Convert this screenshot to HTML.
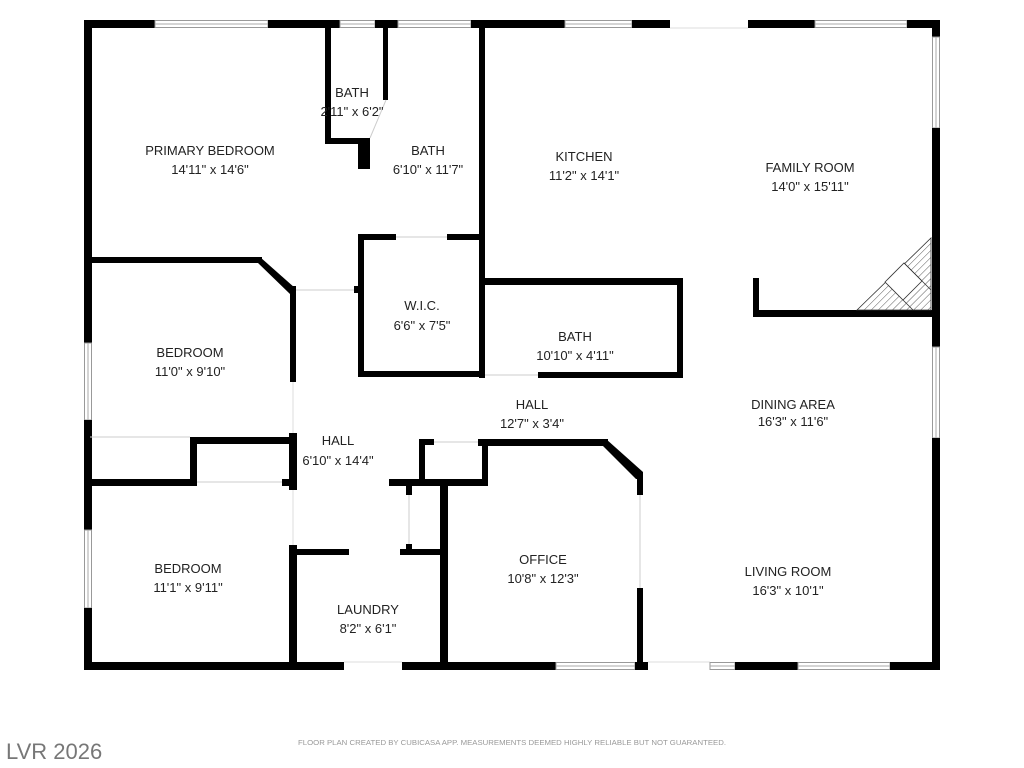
<!DOCTYPE html>
<html><head><meta charset="utf-8"><style>
html,body{margin:0;padding:0;background:#fff;width:1024px;height:768px;overflow:hidden}
svg{display:block}
text{font-family:"Liberation Sans",sans-serif;fill:#222;text-anchor:middle}
.w{fill:#000}
.win{fill:#fff;stroke:#999;stroke-width:1}
</style></head><body>
<svg width="1024" height="768" viewBox="0 0 1024 768">
<!-- outer walls -->
<rect class="w" x="84" y="20" width="71" height="8"/>
<rect class="win" x="155" y="20.5" width="113" height="7"/><line x1="155" y1="24" x2="268" y2="24" stroke="#aaa"/>
<rect class="w" x="268" y="20" width="72" height="8"/>
<rect class="win" x="340" y="20.5" width="35" height="7"/><line x1="340" y1="24" x2="375" y2="24" stroke="#aaa"/>
<rect class="w" x="375" y="20" width="23" height="8"/>
<rect class="win" x="398" y="20.5" width="73" height="7"/><line x1="398" y1="24" x2="471" y2="24" stroke="#aaa"/>
<rect class="w" x="471" y="20" width="94" height="8"/>
<rect class="win" x="565" y="20.5" width="67" height="7"/><line x1="565" y1="24" x2="632" y2="24" stroke="#aaa"/>
<rect class="w" x="632" y="20" width="38" height="8"/>
<line x1="670" y1="28" x2="748" y2="28" stroke="#ddd"/>
<rect class="w" x="748" y="20" width="67" height="8"/>
<rect class="win" x="815" y="20.5" width="92" height="7"/><line x1="815" y1="24" x2="907" y2="24" stroke="#aaa"/>
<rect class="w" x="907" y="20" width="33" height="8"/>
<!-- right wall -->
<rect class="w" x="932" y="20" width="8" height="17"/>
<rect class="win" x="932.5" y="37" width="7" height="91"/><line x1="936" y1="37" x2="936" y2="128" stroke="#aaa"/>
<rect class="w" x="932" y="128" width="8" height="219"/>
<rect class="win" x="932.5" y="347" width="7" height="91"/><line x1="936" y1="347" x2="936" y2="438" stroke="#aaa"/>
<rect class="w" x="932" y="438" width="8" height="232"/>
<!-- left wall -->
<rect class="w" x="84" y="20" width="8" height="323"/>
<rect class="win" x="84.5" y="343" width="7" height="77"/><line x1="88" y1="343" x2="88" y2="420" stroke="#aaa"/>
<rect class="w" x="84" y="420" width="8" height="110"/>
<rect class="win" x="84.5" y="530" width="7" height="78"/><line x1="88" y1="530" x2="88" y2="608" stroke="#aaa"/>
<rect class="w" x="84" y="608" width="8" height="62"/>
<!-- bottom wall -->
<rect class="w" x="84" y="662" width="260" height="8"/>
<line x1="344" y1="662" x2="402" y2="662" stroke="#ddd"/>
<rect class="w" x="402" y="662" width="154" height="8"/>
<rect class="win" x="556" y="662.5" width="79" height="7"/><line x1="556" y1="666" x2="635" y2="666" stroke="#aaa"/>
<rect class="w" x="635" y="662" width="13" height="8"/>
<line x1="648" y1="662" x2="710" y2="662" stroke="#ddd"/>
<rect class="win" x="710" y="662.5" width="25" height="7"/><line x1="710" y1="666" x2="735" y2="666" stroke="#aaa"/>
<rect class="w" x="735" y="662" width="63" height="8"/>
<rect class="win" x="798" y="662.5" width="92" height="7"/><line x1="798" y1="666" x2="890" y2="666" stroke="#aaa"/>
<rect class="w" x="890" y="662" width="50" height="8"/>

<!-- small bath -->
<rect class="w" x="325" y="28" width="6" height="116"/>
<rect class="w" x="325" y="138" width="45" height="6"/>
<rect class="w" x="358" y="138" width="12" height="31"/>
<rect class="w" x="383" y="28" width="5" height="72"/>
<line x1="386" y1="100" x2="370" y2="138" stroke="#ccc"/>
<rect class="w" x="479" y="28" width="6" height="350"/>
<!-- WIC -->
<rect class="w" x="358" y="234" width="6" height="143"/>
<rect class="w" x="358" y="234" width="38" height="6"/>
<rect class="w" x="447" y="234" width="38" height="6"/>
<line x1="396" y1="237" x2="447" y2="237" stroke="#ccc"/>
<rect class="w" x="358" y="371" width="127" height="6"/>
<!-- upper bedroom -->
<rect class="w" x="84" y="257" width="178" height="6"/>
<polygon class="w" points="260,257 295,288 290,294 258,263"/>
<rect class="w" x="290" y="286" width="6" height="96"/>
<line x1="296" y1="290" x2="354" y2="290" stroke="#ccc"/>
<rect class="w" x="354" y="286" width="5" height="7"/>
<!-- closet -->
<rect class="w" x="84" y="434" width="6" height="6"/>
<line x1="90" y1="437" x2="190" y2="437" stroke="#ccc"/>
<rect class="w" x="190" y="437" width="103" height="7"/>
<rect class="w" x="190" y="437" width="7" height="49"/>
<rect class="w" x="84" y="479" width="113" height="7"/>
<line x1="197" y1="482" x2="282" y2="482" stroke="#ccc"/>
<rect class="w" x="282" y="479" width="12" height="7"/>
<rect class="w" x="289" y="433" width="8" height="57"/>
<line x1="293" y1="382" x2="293" y2="433" stroke="#ddd"/>
<line x1="293" y1="490" x2="293" y2="545" stroke="#ddd"/>
<rect class="w" x="289" y="545" width="8" height="125"/>
<!-- laundry -->
<rect class="w" x="289" y="549" width="60" height="6"/>
<rect class="w" x="400" y="549" width="46" height="6"/>
<rect class="w" x="440" y="479" width="8" height="191"/>
<rect class="w" x="389" y="479" width="99" height="7"/>
<rect class="w" x="406" y="479" width="6" height="16"/>
<rect class="w" x="406" y="544" width="6" height="8"/>
<line x1="409" y1="495" x2="409" y2="544" stroke="#ccc"/>
<!-- hall right / office top -->
<rect class="w" x="419" y="439" width="6" height="47"/>
<rect class="w" x="419" y="439" width="15" height="6"/>
<line x1="434" y1="442" x2="478" y2="442" stroke="#ccc"/>
<rect class="w" x="478" y="439" width="130" height="7"/>
<rect class="w" x="482" y="439" width="6" height="47"/>
<polygon class="w" points="606,439 643,472 643,479 636,479 603,446"/>
<rect class="w" x="637" y="472" width="6" height="23"/>
<line x1="640" y1="495" x2="640" y2="588" stroke="#ccc"/>
<rect class="w" x="637" y="588" width="6" height="82"/>
<!-- bath lower -->
<rect class="w" x="485" y="278" width="198" height="7"/>
<rect class="w" x="677" y="278" width="6" height="100"/>
<rect class="w" x="538" y="372" width="145" height="6"/>
<line x1="485" y1="375" x2="538" y2="375" stroke="#ccc"/>
<!-- family room wall -->
<rect class="w" x="753" y="278" width="6" height="39"/>
<rect class="w" x="753" y="310" width="179" height="7"/>
<!-- fireplace -->
<defs><pattern id="h" width="5" height="5" patternUnits="userSpaceOnUse" patternTransform="rotate(45)"><line x1="0" y1="0" x2="0" y2="5" stroke="#333" stroke-width="0.8"/></pattern></defs>
<polygon points="857,310 931,238 931,310" fill="url(#h)" stroke="#333" stroke-width="0.8"/>
<polygon points="885,282 904,263 922,281 903,300" fill="#fff" stroke="#333" stroke-width="0.8"/>
<line x1="904" y1="263" x2="931" y2="290" stroke="#333" stroke-width="0.8"/>
<line x1="903" y1="300" x2="913" y2="310" stroke="#333" stroke-width="0.8"/>

<!-- labels -->
<g font-size="13">
<text x="352" y="97">BATH</text><text x="352" y="116">2'11" x 6'2"</text>
<text x="210" y="155">PRIMARY BEDROOM</text><text x="210" y="174">14'11" x 14'6"</text>
<text x="428" y="155">BATH</text><text x="428" y="174">6'10" x 11'7"</text>
<text x="584" y="161">KITCHEN</text><text x="584" y="180">11'2" x 14'1"</text>
<text x="810" y="172">FAMILY ROOM</text><text x="810" y="191">14'0" x 15'11"</text>
<text x="190" y="357">BEDROOM</text><text x="190" y="376">11'0" x 9'10"</text>
<text x="422" y="310">W.I.C.</text><text x="422" y="330">6'6" x 7'5"</text>
<text x="575" y="341">BATH</text><text x="575" y="360">10'10" x 4'11"</text>
<text x="532" y="409">HALL</text><text x="532" y="428">12'7" x 3'4"</text>
<text x="793" y="409">DINING AREA</text><text x="793" y="426">16'3" x 11'6"</text>
<text x="338" y="445">HALL</text><text x="338" y="465">6'10" x 14'4"</text>
<text x="543" y="564">OFFICE</text><text x="543" y="583">10'8" x 12'3"</text>
<text x="788" y="576">LIVING ROOM</text><text x="788" y="595">16'3" x 10'1"</text>
<text x="188" y="573">BEDROOM</text><text x="188" y="592">11'1" x 9'11"</text>
<text x="368" y="614">LAUNDRY</text><text x="368" y="633">8'2" x 6'1"</text>
</g>
<text x="512" y="745" font-size="7.5" textLength="428" lengthAdjust="spacingAndGlyphs" style="fill:#999">FLOOR PLAN CREATED BY CUBICASA APP. MEASUREMENTS DEEMED HIGHLY RELIABLE BUT NOT GUARANTEED.</text>
<text x="6" y="759" font-size="22" style="fill:#777;text-anchor:start">LVR 2026</text>
</svg>
</body></html>
